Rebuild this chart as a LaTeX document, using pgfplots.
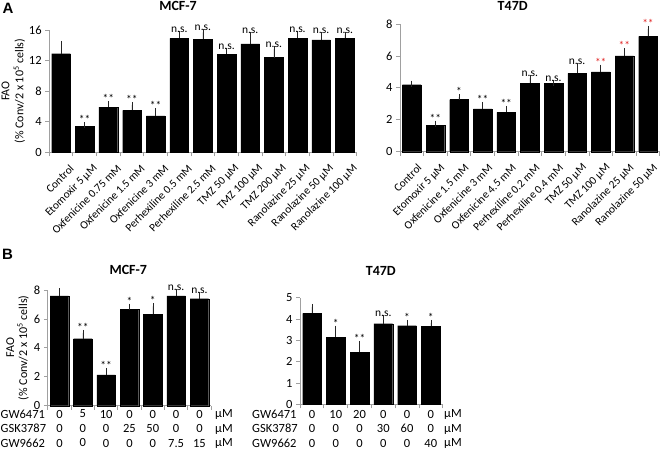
\documentclass[border=0pt]{standalone}
\usepackage{pgfplots}
\pgfplotsset{compat=1.18}
\usepackage{fontspec}
\setmainfont{Carlito}
\newfontfamily\arialb{Liberation Sans}
\definecolor{axgray}{RGB}{160,160,160}
\definecolor{sigred}{RGB}{225,35,35}

\pgfplotsset{
  panel/.style={
    scale only axis, clip=false,
    axis x line*=bottom, axis y line*=left,
    axis line style={axgray, line width=0.75pt},
    tick style={axgray, line width=0.75pt},
    tick align=outside, major tick length=4pt,
    ymin=0,
    /pgf/number format/assume math mode=true,
    yticklabel style={font=\fontsize{12.5}{14}\selectfont, text=black},
    xticklabels={},
    title style={font=\bfseries\fontsize{14}{16}\selectfont, anchor=center},
  },
  rotlab/.style 2 args={major tick length=0pt,
    xticklabel style={rotate=45, anchor=east, inner sep=1pt, font=\fontsize{11.3}{13}\selectfont,
      xshift=#1, yshift=#2}},
  bars/.style={ybar, bar width=0.79, fill=black, draw=black, line width=0.2pt,
    error bars/y dir=plus, error bars/y explicit,
    error bars/error bar style={black!85, line width=0.55pt},
    error bars/error mark options={black!85, line width=0.55pt, mark size=3pt}},
  ann/.style={draw=none, mark=none, nodes near coords, point meta=explicit symbolic,
    every node near coord/.append style={anchor=south, inner sep=1.2pt, text=#1,
      font=\fontsize{11.5}{13}\selectfont}},
}

\begin{document}
\begin{tikzpicture}
\path[use as bounding box] (0pt,0pt) rectangle (660pt,452pt);

% ---------- Panel A, MCF-7 ----------
\begin{axis}[panel, at={(49.2pt,299.7pt)}, anchor=south west,
  width=307.4pt, height=122.3pt,
  xmin=-0.5, xmax=12.5, ymax=16, ytick={0,4,8,12,16},
  xtick={-0.5,0.5,...,12.5},
  extra x ticks={0,1,...,12},
  extra x tick labels={Control, Etomoxir 5 µM, Oxfenicine 0.75 mM, Oxfenicine 1.5 mM,
    Oxfenicine 3 mM, Perhexiline 0.5 mM, Perhexiline 2.5 mM, TMZ 50 µM, TMZ 100 µM,
    TMZ 200 µM, Ranolazine 25 µM, Ranolazine 50 µM, Ranolazine 100 µM},
  extra x tick style={rotlab={-1.4pt}{-17.9pt}},
  title={MCF-7}, title style={at={(axis description cs:0.419,1)}, yshift=18.5pt},
  ylabel={FAO\\(\% Conv/2 x 10\textsuperscript{5} cells)},
  ylabel style={align=center, at={(axis description cs:-0.117,0.5)}, anchor=center,
    font=\fontsize{12}{14}\selectfont},
]
\addplot[bars] table[x=x, y=y, y error=e] {
x y e
0 12.9 1.3
1 3.4 0.15
2 5.9 0.4
3 5.5 0.7
4 4.75 0.65
5 14.9 0.6
6 14.8 0.9
7 12.85 0.45
8 14.2 1.1
9 12.4 1.1
10 14.9 0.6
11 14.7 0.6
12 14.9 0.5
};
\addplot[ann=black] table[x=x, y=y, meta=l] {
x y l
1 3.55 **
2 6.3 **
3 6.2 **
4 5.4 **
5 15.5 n.s.
6 15.7 n.s.
7 13.3 n.s.
8 15.3 n.s.
9 13.5 n.s.
10 15.5 n.s.
11 15.3 n.s.
12 15.4 n.s.
};
\end{axis}

% ---------- Panel A, T47D ----------
\begin{axis}[panel, at={(399.9pt,300.3pt)}, anchor=south west,
  width=259.9pt, height=127.7pt,
  xmin=-0.5, xmax=10.5, ymax=8, ytick={0,2,4,6,8},
  xtick={-0.5,0.5,...,10.5},
  extra x ticks={0,1,...,10},
  extra x tick labels={Control, Etomoxir 5 µM, Oxfenicine 1.5 mM, Oxfenicine 3 mM,
    Oxfenicine 4.5 mM, Perhexiline 0.2 mM, Perhexiline 0.4 mM, TMZ 50 µM, TMZ 100 µM,
    Ranolazine 25 µM, Ranolazine 50 µM},
  extra x tick style={rotlab={-3.5pt}{-15.8pt}},
  title={T47D}, title style={at={(axis description cs:0.434,1)}, yshift=12pt},
]
\addplot[bars] table[x=x, y=y, y error=e] {
x y e
0 4.2 0.06
1 1.65 0.11
2 3.27 0.15
3 2.69 0.25
4 2.46 0.23
5 4.3 0.33
6 4.3 0.03
7 4.9 0.5
8 5.0 0.27
9 6.0 0.29
10 7.23 0.47
};
\addplot[ann=black] table[x=x, y=y, meta=l] {
x y l
1 1.76 **
2 3.42 *
3 2.94 **
4 2.69 **
5 4.63 n.s.
6 4.33 n.s.
7 5.4 n.s.
};
\addplot[ann=sigred] table[x=x, y=y, meta=l] {
x y l
8 5.27 **
9 6.29 **
10 7.7 **
};
\end{axis}

% ---------- Panel B, MCF-7 ----------
\begin{axis}[panel, at={(47.8pt,46.3pt)}, anchor=south west,
  width=163.3pt, height=115.7pt,
  xmin=-0.5, xmax=6.5, ymax=8, ytick={0,2,4,6,8},
  xtick={-0.5,0.5,...,6.5},
  extra x ticks={0,1,...,6},
  extra x tick labels={{0\\0\\0},{5\\0\\0},{10\\0\\0},{0\\25\\0},{0\\50\\0},{0\\0\\7.5},{0\\0\\15}},
  extra x tick style={major tick length=0pt,
    xticklabel style={align=center, anchor=north, inner sep=0pt,
      font=\fontsize{12.5}{14.5}\selectfont, yshift=-4pt}},
  title={MCF-7}, title style={at={(axis description cs:0.493,1)}, yshift=14pt},
  ylabel={FAO\\(\% Conv/2 x 10\textsuperscript{5} cells)},
  ylabel style={align=center, at={(axis description cs:-0.1855,0.5)}, anchor=center,
    font=\fontsize{12}{13}\selectfont},
]
\addplot[bars] table[x=x, y=y, y error=e] {
x y e
0 7.6 0.3
1 4.63 0.4
2 2.14 0.26
3 6.67 0.18
4 6.32 0.55
5 7.59 0.28
6 7.4 0.25
};
\addplot[ann=black] table[x=x, y=y, meta=l] {
x y l
1 5.03 **
2 2.4 **
3 6.85 *
4 6.87 *
5 7.87 n.s.
6 7.65 n.s.
};
\end{axis}

% ---------- Panel B, T47D ----------
\begin{axis}[panel, at={(300.1pt,47.7pt)}, anchor=south west,
  width=142.6pt, height=106.6pt,
  xmin=-0.5, xmax=5.5, ymax=5, ytick={0,1,2,3,4,5},
  xtick={-0.5,0.5,...,5.5},
  extra x ticks={0,1,...,5},
  extra x tick labels={{0\\0\\0},{10\\0\\0},{20\\0\\0},{0\\30\\0},{0\\60\\0},{0\\0\\40}},
  extra x tick style={major tick length=0pt,
    xticklabel style={align=center, anchor=north, inner sep=0pt,
      font=\fontsize{12.5}{14.5}\selectfont, yshift=-5.4pt}},
  title={T47D}, title style={at={(axis description cs:0.566,1)}, yshift=20.7pt},
]
\addplot[bars] table[x=x, y=y, y error=e] {
x y e
0 4.27 0.3
1 3.15 0.4
2 2.44 0.39
3 3.78 0.28
4 3.69 0.13
5 3.66 0.16
};
\addplot[ann=black] table[x=x, y=y, meta=l] {
x y l
1 3.55 *
2 2.83 **
3 4.06 n.s.
4 3.82 *
5 3.82 *
};
\end{axis}

% row headers and units
\node[anchor=north west, align=left, inner sep=0pt, font=\fontsize{12.5}{14.5}\selectfont]
  at (0.5pt,42.3pt) {GW6471\\GSK3787\\GW9662};
\node[anchor=north west, align=left, inner sep=0pt, font=\fontsize{12.5}{14.5}\selectfont]
  at (215pt,42.3pt) {µM\\µM\\µM};
\node[anchor=north west, align=left, inner sep=0pt, font=\fontsize{12.5}{14.5}\selectfont]
  at (252pt,42.3pt) {GW6471\\GSK3787\\GW9662};
\node[anchor=north west, align=left, inner sep=0pt, font=\fontsize{12.5}{14.5}\selectfont]
  at (444pt,42.3pt) {µM\\µM\\µM};

% panel letters
\node[font=\arialb\bfseries\fontsize{15}{17}\selectfont] at (8pt,444pt) {A};
\node[font=\arialb\bfseries\fontsize{15}{17}\selectfont] at (7.5pt,198pt) {B};
\end{tikzpicture}
\end{document}
